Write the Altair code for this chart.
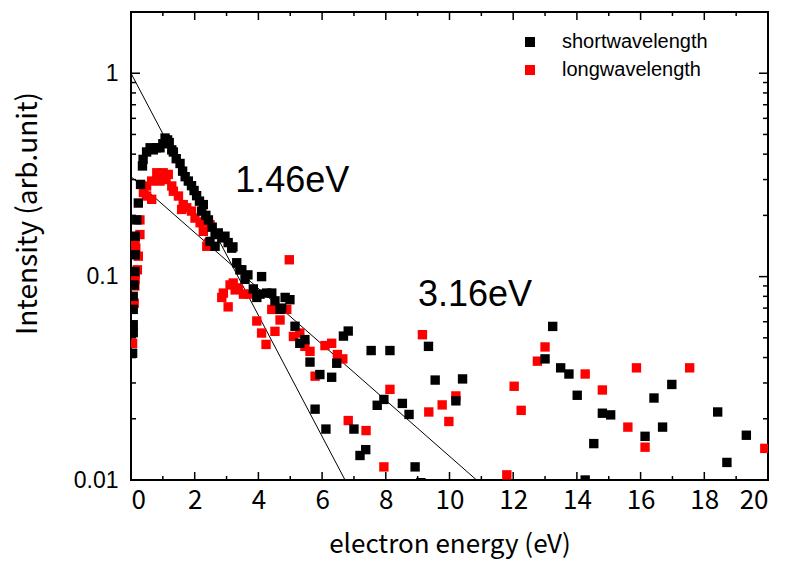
import altair as alt
import pandas as pd

# ---- data ----
short_e = [0.05, 0.07, 0.07, 0.07, 0.07, 0.10, 0.12, 0.13, 0.13, 0.18, 0.23, 0.30, 0.36, 0.38, 0.49,
           0.60, 0.70, 0.80, 0.91, 1.00, 1.07, 1.15, 1.20, 1.28, 1.33, 1.42, 1.54, 1.62, 1.70, 1.80,
           1.90, 1.98, 2.06, 2.15, 2.22, 2.27, 2.35, 2.43, 2.48, 2.55, 2.64, 2.64, 2.74, 2.85, 2.95,
           3.05, 3.16, 3.20, 3.32, 3.42, 3.48, 3.58, 3.67, 3.84, 3.95, 4.05, 4.10, 4.26, 4.42, 4.52,
           4.68, 4.73, 4.84, 4.99, 5.15, 5.30, 5.46, 5.62, 5.78, 5.93, 6.12, 6.30, 6.46, 6.67, 6.82,
           7.00, 7.19, 7.37, 7.54, 7.73, 7.94, 8.13, 8.52, 8.73, 8.92, 9.10, 9.34, 9.55, 10.20, 10.41,
           13.00, 13.24, 13.49, 13.75, 14.01, 14.26, 14.53, 14.80, 15.06, 16.14, 16.42, 16.69, 16.98,
           18.42, 18.71, 19.32]
short_i = [0.042, 0.053, 0.058, 0.069, 0.080, 0.091, 0.106, 0.128, 0.158, 0.19, 0.23, 0.284, 0.35, 0.377, 0.41,
           0.43, 0.42, 0.43, 0.43, 0.45, 0.48, 0.47, 0.456, 0.42, 0.41, 0.38, 0.36, 0.33, 0.31, 0.295,
           0.28, 0.265, 0.25, 0.235, 0.21, 0.226, 0.20, 0.19, 0.149, 0.175, 0.141, 0.161, 0.164, 0.155, 0.158,
           0.147, 0.138, 0.14, 0.117, 0.108, 0.108, 0.097, 0.102, 0.087, 0.079, 0.082, 0.10, 0.083, 0.083, 0.076,
           0.069, 0.07, 0.079, 0.077, 0.057, 0.047, 0.049, 0.038, 0.0223, 0.033, 0.0178, 0.032, 0.0375, 0.051, 0.054,
           0.0178, 0.0132, 0.0141, 0.0433, 0.0233, 0.0249, 0.0433, 0.0238, 0.021, 0.0116, 0.0097, 0.0454, 0.031, 0.0245, 0.0314,
           0.0394, 0.0569, 0.0356, 0.0332, 0.0261, 0.0100, 0.0151, 0.0213, 0.0209, 0.0164, 0.0253, 0.0182, 0.0295,
           0.0216, 0.0122, 0.0166]

long_e = [0.05, 0.10, 0.12, 0.13, 0.20, 0.23, 0.15, 0.13, 0.28, 0.28, 0.39, 0.49, 0.49, 0.65, 0.65,
          0.81, 0.91, 1.01, 1.10, 1.17, 1.28, 1.33, 1.49, 1.59, 1.64, 1.75, 1.90, 2.01, 2.17, 2.32,
          2.27, 2.38, 2.43, 2.48, 2.85, 2.90, 3.05, 3.11, 3.21, 3.27, 3.37, 3.53, 3.68, 3.95, 4.10,
          4.24, 4.42, 4.52, 4.68, 4.89, 4.97, 5.10, 5.30, 5.46, 5.62, 5.78, 6.09, 6.30, 6.48, 6.65,
          6.82, 7.38, 7.94, 8.13, 9.15, 9.35, 9.77, 9.98, 10.20, 11.80, 12.03, 12.25, 12.76, 13.00,
          14.26, 14.80, 15.60, 15.87, 16.14, 17.54, 19.90]
long_i = [0.047, 0.074, 0.09, 0.097, 0.108, 0.126, 0.138, 0.15, 0.161, 0.19, 0.259, 0.249, 0.279, 0.24, 0.295,
          0.324, 0.295, 0.324, 0.30, 0.318, 0.279, 0.263, 0.249, 0.214, 0.226, 0.218, 0.21, 0.194, 0.184, 0.187,
          0.167, 0.141, 0.146, 0.18, 0.079, 0.083, 0.071, 0.091, 0.093, 0.086, 0.088, 0.082, 0.082, 0.0605, 0.0528,
          0.0464, 0.069, 0.0538, 0.0612, 0.069, 0.121, 0.0508, 0.0528, 0.0454, 0.0429, 0.0324, 0.0458, 0.047, 0.0414, 0.0394,
          0.0196, 0.0175, 0.0116, 0.0279, 0.0518, 0.0216, 0.0234, 0.0194, 0.0259, 0.0106, 0.0289, 0.022, 0.0384, 0.0451,
          0.0332, 0.0277, 0.0182, 0.0356, 0.0145, 0.0356, 0.0143]

series_names = ["shortwavelength", "longwavelength"]
series_colors = ["#000000", "#ff0000"]

# fitted exponential lines (end points on the log plot)
fit_names = ["1.46eV", "1.46eV", "3.16eV", "3.16eV"]
fit_e = [0.0, 6.72, 0.0, 10.85]
fit_i = [1.0, 0.01, 0.31, 0.01]

# annotation labels
note_text = ["1.46eV", "3.16eV"]
note_e = [3.27, 9.01]
note_i = [0.262, 0.0714]

x_major = [0, 2, 4, 6, 8, 10, 12, 14, 16, 18, 20]
x_minor = [1, 3, 5, 7, 9, 11, 13, 15, 17, 19]
y_major = [0.01, 0.1, 1]
y_minor = [0.02, 0.03, 0.04, 0.05, 0.06, 0.07, 0.08, 0.09,
           0.2, 0.3, 0.4, 0.5, 0.6, 0.7, 0.8, 0.9]

W, H = 637, 468
XDOM = [0, 20]
YDOM = [0.01, 2]

pts = pd.concat([
    pd.DataFrame({"E": long_e, "I": long_i, "series": series_names[1]}),
    pd.DataFrame({"E": short_e, "I": short_i, "series": series_names[0]}),
], ignore_index=True)
pts["ord"] = range(len(pts))

xs = alt.Scale(domain=XDOM, nice=False, zero=False)
ys = alt.Scale(type="log", domain=YDOM, nice=False)

points = alt.Chart(pts).mark_square(size=88, opacity=1, clip=True).encode(
    x=alt.X("E:Q", scale=xs,
            axis=alt.Axis(values=x_major, format="d", title="electron energy (eV)",
                          ticks=False, domain=False, grid=False, labelPadding=7,
                          labelFont="Noto Sans CJK JP", labelFontSize=26,
                          titleFont="Noto Sans CJK JP", titleFontSize=26, titleFontWeight="normal",
                          titleY=72, titleBaseline="alphabetic")),
    y=alt.Y("I:Q", scale=ys,
            axis=alt.Axis(values=y_major, format="~g", title="Intensity (arb.unit)",
                          ticks=False, domain=False, grid=False, labelPadding=13,
                          labelFont="Liberation Sans", labelFontSize=23,
                          titleFont="Noto Sans CJK JP", titleFontSize=28, titleFontWeight="normal",
                          titleX=-103, titleY=201, titleBaseline="middle", titleAlign="center",
                          titleAngle=270)),
    color=alt.Color("series:N",
                    scale=alt.Scale(domain=series_names, range=series_colors),
                    legend=alt.Legend(title=None, orient="none", legendX=389, legendY=20,
                                      symbolType="square", symbolSize=100, symbolStrokeWidth=0,
                                      labelFont="Liberation Sans", labelFontSize=20,
                                      labelLimit=400,
                                      labelOffset=22, rowPadding=8, padding=0)),
    order=alt.Order("ord:Q"),
)

fits = alt.Chart(pd.DataFrame({"fit": fit_names, "E": fit_e, "I": fit_i})).mark_line(
    color="black", strokeWidth=1, clip=True).encode(
    x=alt.X("E:Q", scale=xs), y=alt.Y("I:Q", scale=ys), detail="fit:N")

notes = alt.Chart(pd.DataFrame({"t": note_text, "E": note_e, "I": note_i})).mark_text(
    align="left", baseline="alphabetic", font="Liberation Sans", fontSize=36, color="black").encode(
    x=alt.X("E:Q", scale=xs), y=alt.Y("I:Q", scale=ys), text="t:N")


def xticks(vals, y0, y1):
    return alt.Chart(pd.DataFrame({"v": vals})).mark_rule(color="black", strokeWidth=1.5).encode(
        x=alt.X("v:Q", scale=xs), y=alt.value(y0), y2=alt.value(y1))


def yticks(vals, x0, x1):
    return alt.Chart(pd.DataFrame({"v": vals})).mark_rule(color="black", strokeWidth=1.5).encode(
        y=alt.Y("v:Q", scale=ys), x=alt.value(x0), x2=alt.value(x1))


ticks = [
    xticks(x_major, H, H - 8), xticks(x_minor, H, H - 4),
    xticks(x_major, 0, 8), xticks(x_minor, 0, 4),
    yticks(y_major, 0, 9), yticks(y_minor, 0, 5),
    yticks(y_major, W, W - 9), yticks(y_minor, W, W - 5),
]

chart = alt.layer(*ticks, fits, points, notes).properties(
    width=W, height=H,
    autosize=alt.AutoSizeParams(type="none"),
    padding={"left": 131, "top": 12, "right": 18, "bottom": 82},
    background="white",
).configure_view(stroke="black", strokeWidth=2).configure_axis(labelColor="black", titleColor="black")

chart.save("out.html", embed_options={"renderer": "svg", "actions": False})
